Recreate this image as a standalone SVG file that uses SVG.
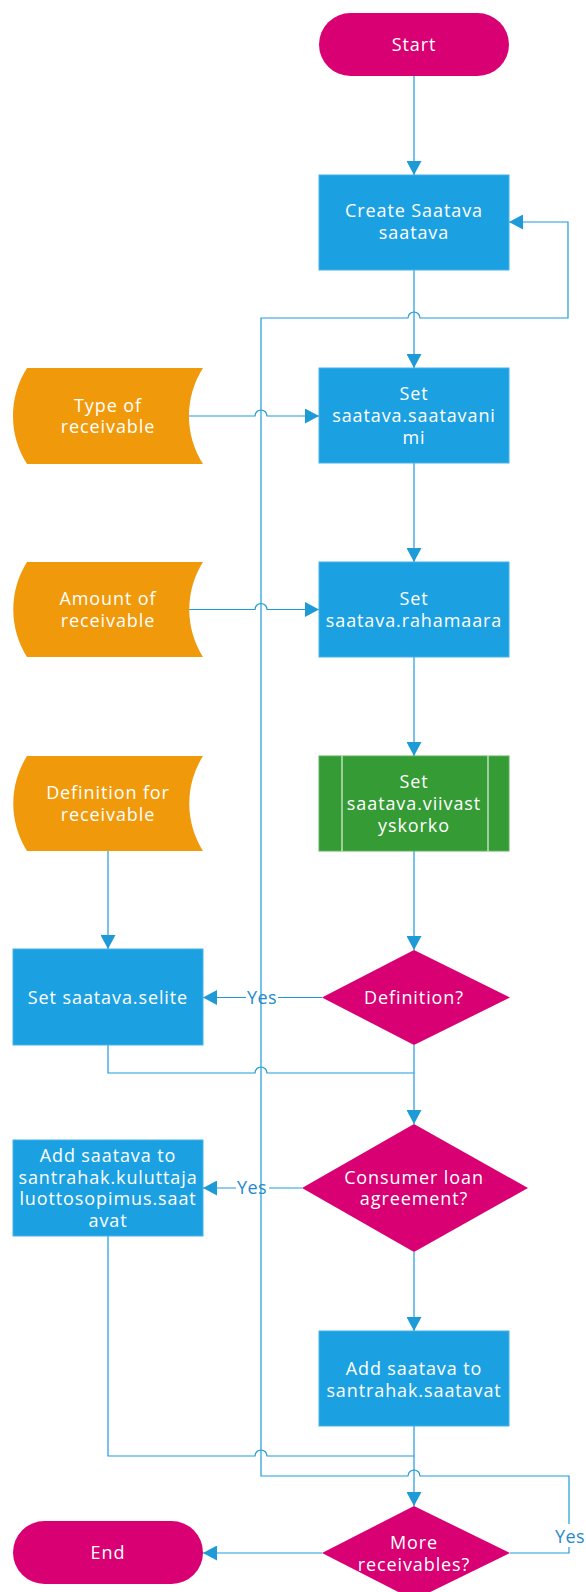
<svg xmlns="http://www.w3.org/2000/svg" width="586" height="1592" viewBox="0 0 586 1592">
  <style>
    .proc { fill: #1BA1E2; stroke: #45B2E8; stroke-width: 1; }
    .term { fill: #D80073; }
    .dec { fill: #D80073; }
    .data { fill: #F09A0B; }
    .sub { fill: #359B35; stroke: #5DB05D; stroke-width: 1; }
    .subbar { stroke: #E4F3E4; stroke-width: 1.2; fill: none; }
    .lbl { font-family: "Open Sans", "Noto Sans", sans-serif; font-size: 18px; letter-spacing: 0.9px; fill: #FFFFFF; text-anchor: middle; }
    .yes { font-family: "Open Sans", "Noto Sans", sans-serif; font-size: 18px; letter-spacing: 0.4px; fill: #1F8BCB; text-anchor: middle; }
    .conn { fill: none; stroke: #1E9BD7; stroke-width: 1.2; }
    .arrow { marker-end: url(#arrowhead); }
  </style>
  <defs>
    <marker id="arrowhead" markerUnits="userSpaceOnUse" markerWidth="14" markerHeight="15" refX="14" refY="7.5" orient="auto">
      <path d="M0,0 L14,7.5 L0,15 Z" fill="#1E9BD7"/>
    </marker>
  </defs>

  <!-- connectors -->
  <g id="connectors">
    <path class="conn arrow" d="M414,76 V175"/>
    <path class="conn arrow" d="M414,269 V368"/>
    <path class="conn arrow" d="M414,463 V562"/>
    <path class="conn arrow" d="M414,657 V756"/>
    <path class="conn arrow" d="M414,851 V950"/>
    <path class="conn arrow" d="M414,1045 V1124"/>
    <path class="conn arrow" d="M414,1252 V1331"/>
    <path class="conn arrow" d="M414,1426 V1506"/>
    <path class="conn arrow" d="M108,851 V949"/>
    <path class="conn arrow" d="M189,416 H255 A6,6 0 0,1 267,416 H319"/>
    <path class="conn arrow" d="M189,609.5 H255 A6,6 0 0,1 267,609.5 H319"/>
    <path class="conn" d="M108,1045 V1073 H255 A6,6 0 0,1 267,1073 H414"/>
    <path class="conn" d="M108,1236 V1456 H255 A6,6 0 0,1 267,1456 H414"/>
    <path class="conn" d="M322,997.5 H278"/>
    <path class="conn arrow" d="M246,997.5 H203"/>
    <path class="conn" d="M302,1188 H269"/>
    <path class="conn arrow" d="M236,1188 H203"/>
    <path class="conn arrow" d="M322,1553 H203"/>
    <path class="conn" d="M510,1553 H569 V1547"/>
    <path class="conn arrow" d="M569,1524 V1476 H420 A6,6 0 0,0 408,1476 H261 V318 H408 A6,6 0 0,1 420,318 H568 V222 H509"/>
    <text class="yes" x="262" y="1004">Yes</text>
    <text class="yes" x="252" y="1194">Yes</text>
    <text class="yes" x="570" y="1543">Yes</text>
  </g>

  <g id="start">
    <rect class="term" x="319" y="13" width="190" height="63" rx="31.5"/>
    <text class="lbl" x="414" y="50.5">Start</text>
  </g>

  <g id="create-saatava">
    <rect class="proc" x="319" y="175" width="190" height="95"/>
    <text class="lbl" x="414" y="217">Create Saatava</text>
    <text class="lbl" x="414" y="239">saatava</text>
  </g>

  <g id="type-of-receivable">
    <path class="data" d="M27,368 H203 A89,89 0 0,0 203,464 H27 A89,89 0 0,1 27,368 Z"/>
    <text class="lbl" x="108" y="411.5">Type of</text>
    <text class="lbl" x="108" y="433">receivable</text>
  </g>

  <g id="set-saatavanimi">
    <rect class="proc" x="319" y="368" width="190" height="95"/>
    <text class="lbl" x="414" y="400">Set</text>
    <text class="lbl" x="414" y="422">saatava.saatavani</text>
    <text class="lbl" x="414" y="444">mi</text>
  </g>

  <g id="amount-of-receivable">
    <path class="data" d="M27,562 H203 A89,89 0 0,0 203,657 H27 A89,89 0 0,1 27,562 Z"/>
    <text class="lbl" x="108" y="605">Amount of</text>
    <text class="lbl" x="108" y="626.5">receivable</text>
  </g>

  <g id="set-rahamaara">
    <rect class="proc" x="319" y="562" width="190" height="95"/>
    <text class="lbl" x="414" y="605">Set</text>
    <text class="lbl" x="414" y="626.5">saatava.rahamaara</text>
  </g>

  <g id="definition-for-receivable">
    <path class="data" d="M27,756 H203 A89,89 0 0,0 203,851 H27 A89,89 0 0,1 27,756 Z"/>
    <text class="lbl" x="108" y="799">Definition for</text>
    <text class="lbl" x="108" y="821">receivable</text>
  </g>

  <g id="set-viivastyskorko">
    <rect class="sub" x="319" y="756" width="190" height="95"/>
    <line class="subbar" x1="342" y1="756" x2="342" y2="851"/>
    <line class="subbar" x1="488" y1="756" x2="488" y2="851"/>
    <text class="lbl" x="414" y="788">Set</text>
    <text class="lbl" x="414" y="810">saatava.viivast</text>
    <text class="lbl" x="414" y="831.5">yskorko</text>
  </g>

  <g id="set-selite">
    <rect class="proc" x="13" y="949" width="190" height="96"/>
    <text class="lbl" x="108" y="1004">Set saatava.selite</text>
  </g>

  <g id="definition-decision">
    <polygon class="dec" points="414,950 510,997.5 414,1045 322,997.5"/>
    <text class="lbl" x="414" y="1004">Definition?</text>
  </g>

  <g id="consumer-loan-decision">
    <polygon class="dec" points="414,1124 528,1188 414,1252 302,1188"/>
    <text class="lbl" x="414" y="1183.5">Consumer loan</text>
    <text class="lbl" x="414" y="1205">agreement?</text>
  </g>

  <g id="add-to-kuluttajaluottosopimus">
    <rect class="proc" x="13" y="1140" width="190" height="96"/>
    <text class="lbl" x="108" y="1161.5">Add saatava to</text>
    <text class="lbl" x="108" y="1183.5">santrahak.kuluttaja</text>
    <text class="lbl" x="108" y="1205">luottosopimus.saat</text>
    <text class="lbl" x="108" y="1227">avat</text>
  </g>

  <g id="add-to-saatavat">
    <rect class="proc" x="319" y="1331" width="190" height="95"/>
    <text class="lbl" x="414" y="1374.5">Add saatava to</text>
    <text class="lbl" x="414" y="1396.5">santrahak.saatavat</text>
  </g>

  <g id="more-receivables-decision">
    <polygon class="dec" points="414,1506 510,1553 414,1600 322,1553"/>
    <text class="lbl" x="414" y="1548.5">More</text>
    <text class="lbl" x="414" y="1570.5">receivables?</text>
  </g>

  <g id="end">
    <rect class="term" x="13" y="1521" width="190" height="63" rx="31.5"/>
    <text class="lbl" x="108" y="1559">End</text>
  </g>
</svg>
